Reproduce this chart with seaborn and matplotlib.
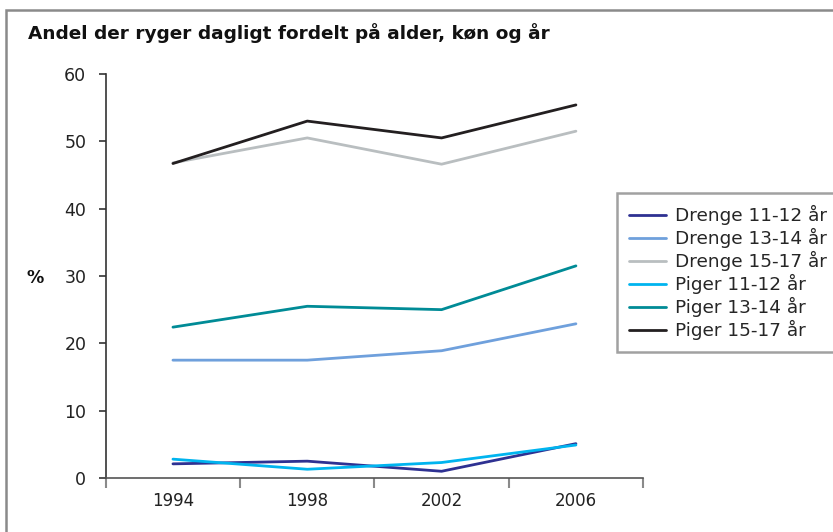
import seaborn as sns
import pandas as pd
import matplotlib.pyplot as plt
from matplotlib.patches import Rectangle

years = ["1994", "1998", "2002", "2006"]
series_names = ["Drenge 11-12 år", "Drenge 13-14 år", "Drenge 15-17 år",
                "Piger 11-12 år", "Piger 13-14 år", "Piger 15-17 år"]
drenge_11_12 = [2.1, 2.5, 1.0, 5.1]
drenge_13_14 = [17.5, 17.5, 18.9, 22.9]
drenge_15_17 = [46.8, 50.5, 46.6, 51.5]
piger_11_12 = [2.8, 1.3, 2.3, 4.9]
piger_13_14 = [22.4, 25.5, 25.0, 31.5]
piger_15_17 = [46.7, 53.0, 50.5, 55.4]
colors = ["#2E3192", "#6FA0DC", "#B9BEC0", "#00B4EF", "#008B96", "#231F20"]


def main():
    values = [drenge_11_12, drenge_13_14, drenge_15_17,
              piger_11_12, piger_13_14, piger_15_17]
    rows = []
    for name, vals in zip(series_names, values):
        for i, v in enumerate(vals):
            rows.append({"pos": i, "serie": name, "pct": v})
    df = pd.DataFrame(rows)

    sns.set_style("white")
    plt.rcParams['font.family'] = ['DejaVu Sans']

    fig = plt.figure(figsize=(8.33, 5.32), dpi=100)
    ax = fig.add_axes([0.127, 0.1015, 0.645, 0.7595])

    sns.lineplot(data=df, x="pos", y="pct", hue="serie",
                 hue_order=series_names, palette=colors,
                 linewidth=2, ax=ax, legend=True)

    ax.set_xlim(-0.5, 3.5)
    ax.set_ylim(0, 60)
    ax.set_yticks(range(0, 61, 10))
    ax.set_xticks(range(4))
    ax.set_xticklabels(years)
    ax.set_xticks([-0.5, 0.5, 1.5, 2.5, 3.5], minor=True)
    ax.tick_params(axis="x", which="major", bottom=True, length=0, pad=10,
                   labelsize=12, labelcolor="#222222")
    ax.tick_params(axis="x", which="minor", bottom=True, length=7, width=1.5,
                   color="#8A8A8A", direction="out")
    ax.tick_params(axis="y", left=True, length=5, width=1.2, color="#333333",
                   direction="out", labelsize=12.5, labelcolor="#222222", pad=9)
    ax.set_xlabel("")
    ax.set_ylabel("")
    fig.text(0.042, 0.478, "%", fontsize=12.5, fontweight="bold",
             ha="center", va="center", color="#111111")

    for side in ["top", "right"]:
        ax.spines[side].set_visible(False)
    ax.spines["left"].set_color("#333333")
    ax.spines["left"].set_linewidth(1.2)
    ax.spines["bottom"].set_color("#555555")
    ax.spines["bottom"].set_linewidth(1.2)
    ax.grid(False)

    handles, labels = ax.get_legend_handles_labels()
    ax.get_legend().remove()
    leg = fig.legend(handles, labels, loc="upper left",
                     bbox_to_anchor=(0.741, 0.637), frameon=True,
                     fontsize=13.3, handlelength=2.0, labelspacing=0.16,
                     borderpad=0.65, handletextpad=0.45, borderaxespad=0,
                     fancybox=False)
    leg.get_frame().set_edgecolor("#8A8A8A")
    leg.get_frame().set_linewidth(1.8)

    fig.text(0.034, 0.938, "Andel der ryger dagligt fordelt på alder, køn og år",
             fontsize=13.3, fontweight="bold", va="center", color="#111111")

    fig.patches.append(Rectangle((0.007, -0.2), 2.0, 1.181,
                                 transform=fig.transFigure, fill=False,
                                 edgecolor="#8A8A8A", linewidth=1.8))

    fig.savefig("out.png", dpi=100)


if __name__ == "__main__":
    main()
